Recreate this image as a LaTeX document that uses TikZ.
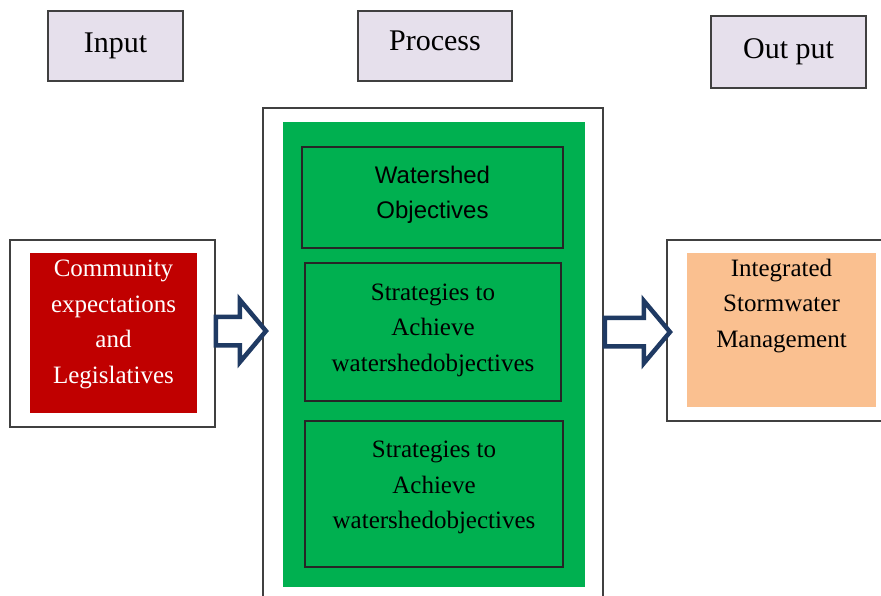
\documentclass[tikz,border=0pt]{standalone}
\usepackage{fontspec}
\setmainfont{Liberation Serif}
\setsansfont{Liberation Sans}
\usetikzlibrary{shapes.arrows}
\definecolor{headfill}{HTML}{E6E0EC}
\definecolor{procgreen}{HTML}{00B050}
\definecolor{inred}{HTML}{C00000}
\definecolor{outpeach}{HTML}{FAC090}
\definecolor{arrnavy}{HTML}{1F3A63}
\definecolor{edgegray}{HTML}{404040}

\begin{document}
\begin{tikzpicture}[x=1pt,y=-1pt,
  head/.style={draw=edgegray,line width=1.2pt,fill=headfill,minimum width=#1,minimum height=70,font=\fontsize{30}{36}\selectfont},
  frame/.style={draw=edgegray,line width=1.2pt,fill=white},
  box/.style={draw=black!85,line width=1.2pt},
  txt/.style={align=center,inner sep=0pt,font=\fontsize{25}{35.5}\selectfont},
  blockarrow/.style={single arrow,draw=arrnavy,line width=4.5pt,fill=white,inner xsep=0pt,inner ysep=12pt,
    minimum width=0pt,single arrow head extend=17,single arrow tip angle=100,minimum height=#1}]
  \clip (0,0) rectangle (881,595);
  \fill[white] (0,0) rectangle (881,595);
  % column headers
  \node[head=135] (input) at (115.5,46) {Input};
  \node[head=154,text depth=10pt] (process) at (435,46) {Process};
  \node[head=155,minimum height=72] (output) at (788.5,52) {Out put};
  % process column
  \node[frame,minimum width=340,minimum height=502] (procframe) at (433,359) {};
  \node[fill=procgreen,minimum width=302,minimum height=465] (procfill) at (434,354.5) {};
  \node[box,minimum width=261,minimum height=101] (objbox) at (432.5,197.5) {};
  \node[box,minimum width=256,minimum height=138] (stratA) at (433,332) {};
  \node[box,minimum width=258,minimum height=146] (stratB) at (434,494) {};
  \node[txt,font=\sffamily\fontsize{24}{35}\selectfont] (objtxt) at (432.5,195) {Watershed\\Objectives};
  \node[txt] (stratAtxt) at (433,330) {Strategies to\\Achieve\\watershedobjectives};
  \node[txt] (stratBtxt) at (434,487.5) {Strategies to\\Achieve\\watershedobjectives};
  % input and output
  \node[frame,minimum width=205,minimum height=187] (inframe) at (112.5,333.5) {};
  \node[fill=inred,minimum width=167,minimum height=160] (inbox) at (113.5,333) {};
  \node[txt,text=white] (intxt) at (113.5,324.5) {Community\\expectations\\and\\Legislatives};
  \node[frame,minimum width=228,minimum height=181] (outframe) at (781,330.5) {};
  \node[fill=outpeach,minimum width=189,minimum height=154] (outbox) at (781.5,330) {};
  \node[txt] (outtxt) at (781.5,306) {Integrated\\Stormwater\\Management};
  % block arrows
  \node[blockarrow=50] (arrin) at (235,331) {};
  \node[blockarrow=65] (arrout) at (631.5,332) {};
\end{tikzpicture}
\end{document}
